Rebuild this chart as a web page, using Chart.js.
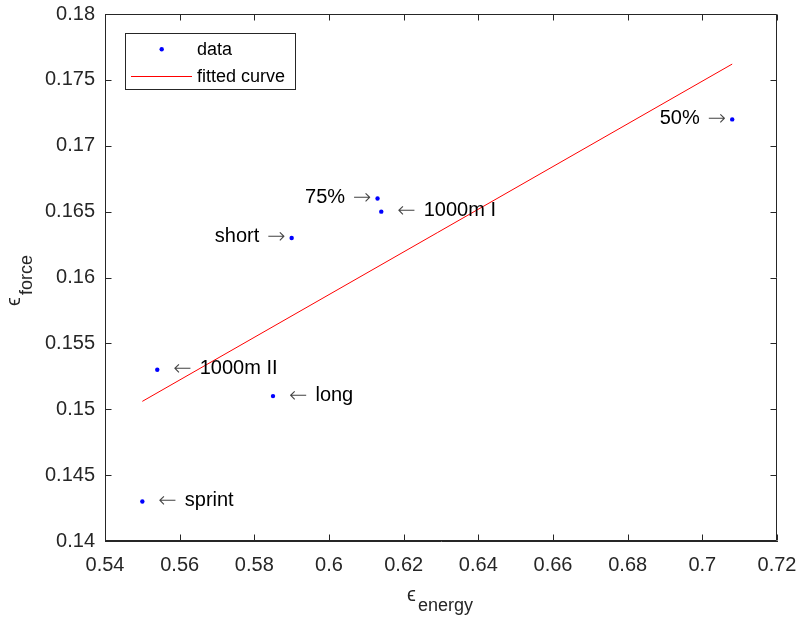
<!DOCTYPE html>
<html>
<head>
<meta charset="utf-8">
<script src="https://cdn.jsdelivr.net/npm/chart.js@4.4.1/dist/chart.umd.min.js"></script>
<style>
  html, body { margin: 0; padding: 0; background: #ffffff; }
  #wrap { width: 799px; height: 618px; position: relative; }
</style>
</head>
<body>
<div id="wrap"><canvas id="c" width="799" height="618"></canvas></div>
<script>
// ---- data ----
const pointLabels = ['50%', '75%', '1000m I', 'short', '1000m II', 'long', 'sprint'];
const energy      = [0.708, 0.613, 0.614, 0.590, 0.554, 0.585, 0.550];
const force       = [0.172, 0.166, 0.165, 0.163, 0.153, 0.151, 0.143];
const labelSide   = ['left', 'left', 'right', 'left', 'right', 'right', 'right'];
const fitEnergy   = [0.550, 0.708];
const fitForce    = [0.1506, 0.1762];
const xTicks      = [0.54, 0.56, 0.58, 0.60, 0.62, 0.64, 0.66, 0.68, 0.70, 0.72];
const yTicks      = [0.14, 0.145, 0.15, 0.155, 0.16, 0.165, 0.17, 0.175, 0.18];
const legendNames = ['data', 'fitted curve'];

const AX = '#262626';
const FONT = '"Liberation Sans", Arial, "DejaVu Sans", sans-serif';
const ARROWFONT = '200 22px "DejaVu Sans", sans-serif';

function fmt(v) { return String(Number(v.toFixed(4))); }

const scatterData = energy.map((e, i) => ({ x: e, y: force[i] }));
const fitData = fitEnergy.map((e, i) => ({ x: e, y: fitForce[i] }));

function noPad(s) { s.paddingLeft = 0; s.paddingRight = 0; s.paddingTop = 0; s.paddingBottom = 0; }

const overlay = {
  id: 'overlay',
  afterDatasetsDraw(chart) {
    const ctx = chart.ctx;
    const a = chart.chartArea;
    const xs = chart.scales.x, ys = chart.scales.y;
    ctx.save();
    // box + inward ticks
    ctx.strokeStyle = AX;
    ctx.lineWidth = 1;
    ctx.beginPath();
    const L = Math.round(a.left) + 0.5, R = Math.round(a.right) - 0.5;
    const T = Math.round(a.top) + 0.5, B = Math.round(a.bottom) - 0.5;
    ctx.moveTo(L, T); ctx.lineTo(R, T); ctx.lineTo(R, B); ctx.lineTo(L, B); ctx.closePath();
    const tl = 6;
    xTicks.forEach(v => {
      const px = Math.round(xs.getPixelForValue(v)) + 0.5;
      ctx.moveTo(px, B); ctx.lineTo(px, B - tl);
      ctx.moveTo(px, T); ctx.lineTo(px, T + tl);
    });
    yTicks.forEach(v => {
      const py = Math.round(ys.getPixelForValue(v)) + 0.5;
      ctx.moveTo(L, py); ctx.lineTo(L + tl, py);
      ctx.moveTo(R, py); ctx.lineTo(R - tl, py);
    });
    ctx.stroke();

    // point annotations
    ctx.textBaseline = 'alphabetic';
    pointLabels.forEach((lab, i) => {
      const px = xs.getPixelForValue(energy[i]);
      const py = ys.getPixelForValue(force[i]) + 4.5;
      if (labelSide[i] === 'right') {
        ctx.textAlign = 'left';
        ctx.font = ARROWFONT;
        ctx.fillStyle = '#444444';
        const ax = px + 16;
        ctx.fillText('\u2190', ax, py + 1);
        const w = ctx.measureText('\u2190').width;
        ctx.fillStyle = '#000000';
        ctx.font = '20px ' + FONT;
        ctx.fillText(lab, ax + w + 8, py);
      } else {
        ctx.textAlign = 'right';
        ctx.font = ARROWFONT;
        ctx.fillStyle = '#444444';
        const ax = px - 6;
        ctx.fillText('\u2192', ax, py + 1);
        const w = ctx.measureText('\u2192').width;
        ctx.fillStyle = '#000000';
        ctx.font = '20px ' + FONT;
        ctx.fillText(lab, ax - w - 8, py);
      }
    });

    // legend
    ctx.fillStyle = '#ffffff';
    ctx.fillRect(125.5, 33.5, 170, 56);
    ctx.strokeStyle = AX;
    ctx.strokeRect(125.5, 33.5, 170, 56);
    ctx.fillStyle = '#0000ff';
    ctx.beginPath(); ctx.arc(161.7, 49.3, 2.2, 0, Math.PI * 2); ctx.fill();
    ctx.strokeStyle = '#ff0000';
    ctx.beginPath(); ctx.moveTo(131, 76.5); ctx.lineTo(192, 76.5); ctx.stroke();
    ctx.fillStyle = '#000000';
    ctx.font = '18px ' + FONT;
    ctx.textAlign = 'left';
    ctx.textBaseline = 'middle';
    ctx.fillText(legendNames[0], 197, 50);
    ctx.fillText(legendNames[1], 197, 77);

    // axis titles
    ctx.fillStyle = AX;
    ctx.textBaseline = 'alphabetic';
    ctx.font = '20px ' + FONT;
    ctx.fillText('\u03F5', 407, 601);
    ctx.font = '18px ' + FONT;
    ctx.fillText('energy', 418, 611);

    ctx.save();
    ctx.translate(20, 306);
    ctx.rotate(-Math.PI / 2);
    ctx.font = '20px ' + FONT;
    ctx.fillText('\u03F5', 0, 0);
    ctx.font = '18px ' + FONT;
    ctx.fillText('force', 11, 12);
    ctx.restore();

    ctx.restore();
  }
};

new Chart(document.getElementById('c'), {
  type: 'scatter',
  data: {
    datasets: [
      {
        label: legendNames[0],
        data: scatterData,
        showLine: false,
        pointRadius: 2.2,
        pointHoverRadius: 2.2,
        pointBackgroundColor: '#0000ff',
        pointBorderWidth: 0,
        borderColor: '#0000ff'
      },
      {
        label: legendNames[1],
        data: fitData,
        showLine: true,
        pointRadius: 0,
        borderColor: '#ff0000',
        borderWidth: 1,
        fill: false
      }
    ]
  },
  options: {
    responsive: false,
    animation: false,
    events: [],
    layout: { padding: { left: 0, right: 22, top: 14, bottom: 0 } },
    plugins: { legend: { display: false }, tooltip: { enabled: false } },
    scales: {
      x: {
        type: 'linear',
        min: 0.54, max: 0.72,
        afterFit(s) { s.height = 77; noPad(s); },
        afterBuildTicks(s) { s.ticks = xTicks.map(v => ({ value: v })); },
        grid: { display: false, drawTicks: false },
        border: { display: true, color: AX },
        ticks: {
          color: AX, padding: 12, maxRotation: 0, autoSkip: false,
          font: { family: FONT, size: 20 },
          callback: v => fmt(v)
        }
      },
      y: {
        type: 'linear',
        min: 0.14, max: 0.18,
        afterFit(s) { s.width = 105; noPad(s); },
        afterBuildTicks(s) { s.ticks = yTicks.map(v => ({ value: v })); },
        grid: { display: false, drawTicks: false },
        border: { display: true, color: AX },
        ticks: {
          color: AX, padding: 10, autoSkip: false,
          font: { family: FONT, size: 20 },
          callback: v => fmt(v)
        }
      }
    }
  },
  plugins: [overlay]
});
</script>
</body>
</html>
